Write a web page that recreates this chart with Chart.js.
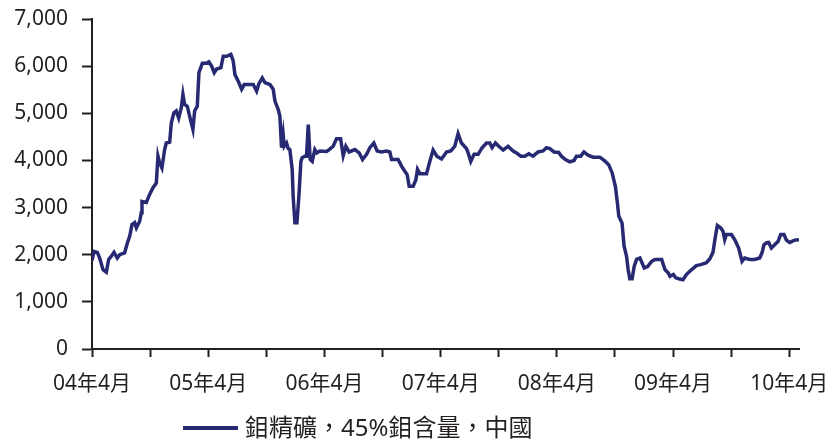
<!DOCTYPE html>
<html lang="zh-Hant">
<head>
  <meta charset="UTF-8">
  <title>鉬精礦價格</title>
  <script src="https://cdn.jsdelivr.net/npm/chart.js"></script>
  <style>
    body { margin: 0; background: #fff; }
    #wrap { width: 837px; height: 440px; }
  </style>
</head>
<body>
  <div id="wrap"><canvas id="moChart" width="837" height="440"></canvas></div>

  <script>
    // months since 2004-04 (x) and price (y)
    const months = [
      0, 0.21, 0.55, 0.79, 1.14, 1.48, 1.72, 2.0, 2.27, 2.61, 2.86, 3.37, 3.65, 3.89, 4.13, 4.4, 4.58, 4.92, 5.09, 5.16,
      5.61, 5.95, 6.3, 6.64, 6.81, 6.98, 7.22, 7.5, 7.67, 8.02, 8.19, 8.46, 8.7, 8.95, 9.22, 9.39, 9.56, 9.84, 10.08, 10.42,
      10.6, 10.87, 11.04, 11.39, 11.8, 12.07, 12.35, 12.62, 12.87, 13.31, 13.55, 13.9, 14.34, 14.58, 14.76, 15.1, 15.45, 15.72, 16.65, 17.0,
      17.23, 17.58, 17.85, 18.37, 18.71, 18.89, 19.23, 19.4, 19.57, 19.74, 19.85, 20.09, 20.26, 20.43, 20.67, 20.77, 20.95, 21.16, 21.36, 21.57,
      21.7, 21.98, 22.15, 22.33, 22.53, 22.74, 23.01, 23.22, 23.53, 24.22, 24.49, 24.9, 25.25, 25.67, 25.94, 26.21, 26.55, 27.14, 27.59, 27.94,
      28.35, 28.69, 29.1, 29.44, 29.9, 30.41, 30.75, 30.93, 31.61, 31.96, 32.3, 32.54, 32.75, 33.16, 33.44, 33.61, 33.85, 34.54, 34.88, 35.22,
      35.6, 36.09, 36.6, 37.05, 37.46, 37.8, 38.15, 38.67, 38.84, 39.11, 39.45, 39.87, 40.28, 40.73, 41.07, 41.31, 41.66, 42.0, 42.45, 42.96,
      43.48, 43.83, 44.27, 44.69, 45.1, 45.54, 46.06, 46.57, 46.92, 47.27, 47.71, 48.19, 48.47, 48.88, 49.33, 49.78, 50.02, 50.46, 50.8, 51.22,
      51.73, 52.43, 52.94, 53.35, 53.7, 54.04, 54.25, 54.39, 54.73, 54.94, 55.19, 55.36, 55.53, 55.77, 55.98, 56.23, 56.58, 57.02, 57.37, 57.79,
      58.13, 58.82, 59.17, 59.51, 59.68, 60.03, 60.28, 60.58, 61.02, 61.37, 61.89, 62.4, 62.85, 63.44, 63.78, 64.12, 64.37, 64.57, 64.91, 65.15,
      65.33, 65.5, 66.02, 66.36, 66.77, 67.12, 67.39, 67.91, 68.42, 68.94, 69.18, 69.38, 69.63, 69.87, 70.15, 70.49, 70.83, 71.11, 71.45, 71.7,
      72.04, 72.56, 73.0
    ];
    const prices = [
      1880, 2070, 2050, 1930, 1680, 1630, 1900, 1970, 2050, 1930, 2000, 2040, 2250, 2390, 2640, 2680, 2570, 2710, 2890, 3130,
      3110, 3280, 3420, 3520, 4090, 3950, 3840, 4230, 4370, 4390, 4800, 5010, 5050, 4900, 5120, 5400, 5190, 5150, 4940, 4660,
      5050, 5150, 5860, 6060, 6060, 6090, 6000, 5860, 5940, 5970, 6210, 6210, 6250, 6110, 5820, 5680, 5510, 5610, 5610, 5470,
      5630, 5750, 5650, 5610, 5510, 5260, 5080, 4940, 4270, 4550, 4300, 4370, 4250, 4230, 3810, 3240, 2680, 2680, 3240, 3980,
      4060, 4090, 4090, 4760, 4020, 3980, 4230, 4160, 4200, 4190, 4230, 4300, 4460, 4460, 4100, 4300, 4180, 4230, 4160, 4020,
      4130, 4270, 4370, 4200, 4180, 4200, 4180, 4020, 4020, 3880, 3770, 3700, 3450, 3450, 3590, 3810, 3720, 3720, 3980, 4220,
      4090, 4030, 4180, 4200, 4300, 4570, 4370, 4250, 4160, 3980, 4130, 4130, 4270, 4370, 4370, 4270, 4370, 4300, 4220, 4300,
      4200, 4160, 4090, 4090, 4140, 4090, 4180, 4200, 4270, 4250, 4180, 4170, 4090, 4020, 3970, 4000, 4090, 4090, 4180, 4110,
      4070, 4070, 3990, 3910, 3740, 3450, 3100, 2820, 2670, 2180, 1970, 1680, 1490, 1490, 1750, 1900, 1930, 1720, 1750, 1860,
      1900, 1900, 1680, 1610, 1540, 1580, 1510, 1490, 1470, 1580, 1680, 1770, 1790, 1830, 1910, 2050, 2390, 2620, 2570, 2500,
      2320, 2430, 2430, 2320, 2140, 1860, 1930, 1900, 1900, 1930, 2040, 2210, 2250, 2260, 2140, 2210, 2280, 2430, 2430, 2310,
      2260, 2310, 2320
    ];
    const yearLabels = ["04年4月", "05年4月", "06年4月", "07年4月", "08年4月", "09年4月", "10年4月"];
    const seriesName = "鉬精礦，45%鉬含量，中國";

    const ink = "#231f20";
    const navy = "#272a72";
    const fontFamily = "'Noto Sans', 'Noto Sans CJK TC', sans-serif";

    // legend drawn by hand so it can sit left of centre like the original
    const legendLine = {
      id: "legendLine",
      afterDraw(chart) {
        const ctx = chart.ctx;
        ctx.save();
        ctx.strokeStyle = navy;
        ctx.lineWidth = 4;
        ctx.beginPath();
        ctx.moveTo(183, 428);
        ctx.lineTo(238, 428);
        ctx.stroke();
        ctx.fillStyle = ink;
        ctx.font = "24px " + fontFamily;
        ctx.textBaseline = "middle";
        ctx.fillText(chart.data.datasets[0].label, 245, 429);
        ctx.restore();
      }
    };

    new Chart(document.getElementById("moChart"), {
      type: "line",
      data: {
        datasets: [{
          label: seriesName,
          data: months.map((m, i) => ({ x: m, y: prices[i] })),
          borderColor: navy,
          backgroundColor: navy,
          borderWidth: 3.5,
          pointRadius: 0,
          tension: 0
        }]
      },
      options: {
        responsive: false,
        animation: false,
        layout: { padding: { top: 19, right: 38, left: 0, bottom: 0 } },
        plugins: { legend: { display: false }, tooltip: { enabled: false } },
        scales: {
          x: {
            type: "linear",
            min: 0,
            max: 73,
            afterFit: s => { s.height = 91; s.paddingLeft = 0; s.paddingRight = 0; },
            afterBuildTicks: s => {
              s.ticks = [];
              for (let v = 0; v <= 72; v += 6) s.ticks.push({ value: v });
            },
            ticks: {
              autoSkip: false,
              maxRotation: 0,
              padding: 14,
              color: ink,
              font: { family: fontFamily, size: 21 },
              callback: v => (v % 12 === 0 ? yearLabels[v / 12] : "")
            },
            grid: { drawOnChartArea: false, tickLength: 8, tickWidth: 2, tickColor: ink },
            border: { color: ink, width: 2 }
          },
          y: {
            min: 0,
            max: 7000,
            afterFit: s => { s.width = 92; s.paddingTop = 0; s.paddingBottom = 0; },
            ticks: {
              stepSize: 1000,
              padding: 14,
              color: ink,
              font: { family: fontFamily, size: 21 },
              callback: v => v.toLocaleString("en-US")
            },
            grid: { drawOnChartArea: false, tickLength: 10, tickWidth: 2, tickColor: ink },
            border: { color: ink, width: 2 }
          }
        }
      },
      plugins: [legendLine]
    });
  </script>
</body>
</html>
